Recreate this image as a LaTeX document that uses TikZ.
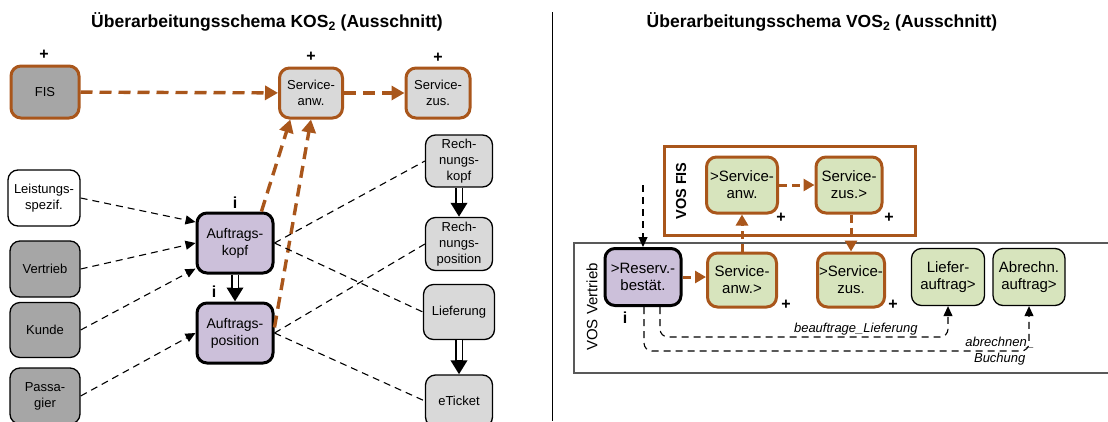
\documentclass[tikz,border=0pt]{standalone}
\usepackage{fontspec}
\setmainfont{Liberation Sans}
\usepackage{xcolor}
\usepackage{tikz}
\usetikzlibrary{arrows.meta,positioning,calc}
\definecolor{KSOrange}{HTML}{A9561B}
\definecolor{KSDark}{HTML}{A6A6A6}
\definecolor{KSLight}{HTML}{D9D9D9}
\definecolor{KSLila}{HTML}{CCC0DA}
\definecolor{KSGreen}{HTML}{D7E4BD}
\definecolor{KSFrame}{HTML}{595959}
\newcommand{\fsz}[2]{\fontsize{#1}{#2}\selectfont}

\begin{document}
\begin{tikzpicture}[
    x=1pt,y=-1pt,
    obj/.style={draw, line width=1.3pt, rounded corners=10pt, align=center,
      inner sep=1pt, font=\fsz{13}{16}},
    dark/.style={obj, fill=KSDark, minimum width=70pt, minimum height=56pt},
    light/.style={obj, fill=KSLight, minimum width=67pt, minimum height=52pt},
    srv/.style={light, draw=KSOrange, line width=3pt, minimum width=63pt, minimum height=50pt},
    head/.style={obj, fill=KSLila, line width=3pt, minimum width=76pt,
      minimum height=60pt, font=\fsz{14}{17}},
    vos/.style={obj, fill=KSGreen, minimum width=72pt, minimum height=57pt, font=\fsz{15}{17}},
    vosfis/.style={vos, draw=KSOrange, line width=3pt, minimum width=69pt, minimum height=55pt},
    title/.style={font=\bfseries\fsz{17.5}{19}},
    plusi/.style={font=\bfseries\fsz{16}{16}, inner sep=1pt},
    note/.style={font=\itshape\fsz{13}{16}, inner sep=1pt, align=center},
    link/.style={line width=1.1pt, dash pattern=on 7pt off 5pt},
    feed/.style={link, -{Triangle[length=10pt,width=9pt]}},
    flow/.style={draw=KSOrange, line width=3.4pt, dash pattern=on 12pt off 7pt,
      -{Triangle[length=13pt,width=14pt]}},
    flowr/.style={flow, line width=3pt, dash pattern=on 8pt off 5pt,
      -{Triangle[length=11pt,width=12pt]}},
    hier/.style={line width=8pt, -{Triangle[length=14pt,width=16pt]}},
    hiergap/.style={white, line width=5pt, shorten >=14pt}
  ]
  \useasboundingbox (0,0) rectangle (1108,421);
  \clip (0,0) rectangle (1108,421);

  \node[title] (tkos) at (267,22) {Überarbeitungsschema KOS\textsubscript{2} (Ausschnitt)};
  \node[title] (tvos) at (822,22) {Überarbeitungsschema VOS\textsubscript{2} (Ausschnitt)};
  \draw[line width=1pt] (552,12) -- (552,421);

  % KOS
  \node[srv, fill=KSDark, minimum width=68pt, minimum height=52pt] (fis) at (45,92) {FIS};
  \node[srv] (sanw) at (311,93) {Service-\\anw.};
  \node[srv, minimum width=64pt] (szus) at (438,93) {Service-\\zus.};
  \node[plusi] (p1) at (44,55) {+};
  \node[plusi] (p2) at (311,57) {+};
  \node[plusi] (p3) at (438,58) {+};

  \node[obj, fill=white, minimum width=72pt, minimum height=56pt] (leist) at (44,198) {Leistungs-\\spezif.};
  \node[dark] (vertr) at (45,269) {Vertrieb};
  \node[dark, minimum height=55pt] (kunde) at (45,330) {Kunde};
  \node[dark] (passa) at (45,396) {Passa-\\gier};

  \node[head] (akopf) at (235,243) {Auftrags-\\kopf};
  \node[head] (apos) at (235,333) {Auftrags-\\position};
  \node[plusi] (i1) at (235,203) {i};
  \node[plusi] (i2) at (214,292) {i};

  \node[light] (rkopf) at (459,161) {Rech-\\nungs-\\kopf};
  \node[light, minimum height=53pt] (rpos) at (459,244) {Rech-\\nungs-\\position};
  \node[light, minimum width=71pt, minimum height=55pt] (liefer) at (459,312) {Lieferung};
  \node[light] (eticket) at (459,401) {eTicket};

  \draw[flow] (fis) -- (sanw);
  \draw[flow] (sanw) -- (szus);
  \draw[flow] (akopf.50) -- (sanw.232);
  \draw[flow] (apos.8) -- (sanw.south);

  \draw[feed] (leist.east) -- (akopf.152);
  \draw[feed] (vertr.east) -- (akopf.west);
  \draw[feed] (kunde.east) -- (akopf.213);
  \draw[feed] (passa.east) -- (apos.west);

  \draw[link] (akopf.east) -- (rkopf.west);
  \draw[link] (akopf.east) -- (liefer.west);
  \draw[link] (apos.east) -- (rpos.west);
  \draw[link] (apos.east) -- (eticket.west);

  \foreach \a/\b in {akopf/apos, rkopf/rpos, liefer/eticket} {
    \draw[hier] (\a) -- (\b);
    \draw[hiergap] (\a) -- (\b);
  }

  % VOS
  \draw[KSOrange, line width=3pt] (664,146) rectangle (915,235);
  \draw[KSFrame, line width=1.3pt] (574,243) rectangle (1120,373);
  \node[rotate=90, font=\bfseries\fsz{14.5}{15}] (lfis) at (681,191) {VOS FIS};
  \node[rotate=90, font=\fsz{15}{15}] (lvert) at (592,307) {VOS Vertrieb};

  \node[vosfis, minimum width=71pt, minimum height=56pt] (fsanw) at (742,185) {>Service-\\anw.};
  \node[vosfis, minimum width=66pt, minimum height=56pt] (fszus) at (849,185) {Service-\\zus.>};
  \node[head, minimum height=57pt, font=\fsz{15}{17}] (resv) at (643,277) {>Reserv.-\\bestät.};
  \node[vosfis, minimum height=54pt] (vsanw) at (742,280) {Service-\\anw.>};
  \node[vosfis, minimum width=67pt, minimum height=54pt] (vszus) at (851,280) {>Service-\\zus.};
  \node[vos, minimum width=73pt] (lauftr) at (948,277) {Liefer-\\auftrag>};
  \node[vos] (aauftr) at (1029,277) {Abrechn.\\auftrag>};

  \node[plusi] (p4) at (781,218) {+};
  \node[plusi] (p5) at (889,218) {+};
  \node[plusi] (p6) at (786,305) {+};
  \node[plusi] (p7) at (893,305) {+};
  \node[plusi] (i3) at (625,318) {i};

  \coordinate (vin) at (643,185);
  \draw[feed] (vin) -- (resv);
  \draw[flowr] (resv.east) -- (vsanw.west |- resv.east);
  \draw[flowr] (vsanw) -- (fsanw);
  \draw[flowr] (fsanw) -- (fszus);
  \draw[flowr] (fszus.south -| vszus.north) -- (vszus.north);

  \draw[feed, rounded corners=8pt] ([xshift=17pt]resv.south) -- ++(0,30) -| (lauftr.south)
    node[note, pos=0.34, above] (nlief) {beauftrage\_Lieferung};
  \draw[feed, rounded corners=8pt] ([xshift=1pt]resv.south) -- ++(0,44) -| (aauftr.south)
    node[note, pos=0.462] (nabr) {abrechnen\_\\Buchung};
\end{tikzpicture}
\end{document}
